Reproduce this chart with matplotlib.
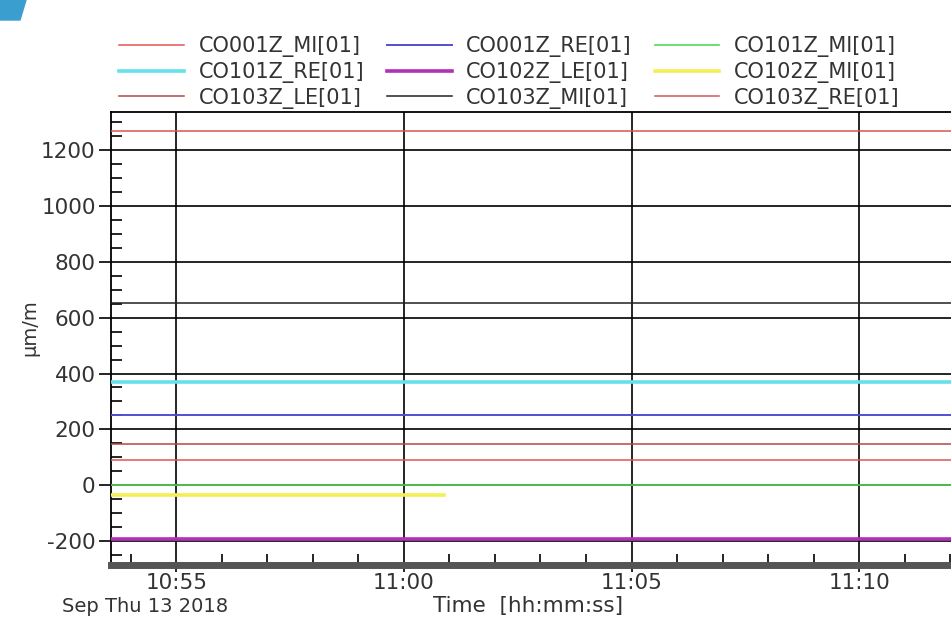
from datetime import datetime

import matplotlib
matplotlib.use("Agg")
import matplotlib.dates as mdates
import matplotlib.pyplot as plt
from matplotlib.patches import Polygon
from matplotlib.ticker import MultipleLocator


# 채널 이름, 값(µm/m), 시작/끝 시각
CHANNELS = [
    "CO001Z_MI[01]", "CO001Z_RE[01]", "CO101Z_MI[01]",
    "CO101Z_RE[01]", "CO102Z_LE[01]", "CO102Z_MI[01]",
    "CO103Z_LE[01]", "CO103Z_MI[01]", "CO103Z_RE[01]",
]
VALUES = [92, 252, 2, 371, -194, -36, 146, 654, 1268]
STARTS = ["10:53:34"] * 9
ENDS = ["11:12:05", "11:12:05", "11:12:05",
        "11:12:05", "11:12:05", "11:00:53",
        "11:12:05", "11:12:05", "11:12:05"]

COLORS = ["#e05555", "#5050d0", "#55d855", "#66e0ea", "#b030b8", "#f2f055",
          "#b04848", "#202020", "#d85555"]
WIDTHS = [1.1, 1.4, 1.2, 2.6, 2.6, 2.6, 1.1, 1.1, 1.1]

X_MIN, X_MAX = "10:53:34", "11:12:01"
Y_MIN, Y_MAX = -286, 1337


def t(hms: str) -> datetime:
    return datetime.strptime("2018-09-13 " + hms, "%Y-%m-%d %H:%M:%S")


plt.rcParams["font.family"] = ["DejaVu Sans"]
plt.rcParams["axes.unicode_minus"] = False

fig = plt.figure(figsize=(9.51, 6.29), dpi=100)
ax = fig.add_axes([0.1167, 0.1017, 0.8833, 0.7203])

lines = []
for name, val, st, en, col, lw in zip(CHANNELS, VALUES, STARTS, ENDS, COLORS, WIDTHS):
    (ln,) = ax.plot([t(st), t(en)], [val, val], color=col, lw=lw, label=name, zorder=3)
    lines.append(ln)

ax.set_xlim(t(X_MIN), t(X_MAX))
ax.set_ylim(Y_MIN, Y_MAX)

ax.xaxis.set_major_locator(mdates.MinuteLocator(byminute=range(0, 60, 5)))
ax.xaxis.set_minor_locator(mdates.MinuteLocator())
ax.xaxis.set_major_formatter(mdates.DateFormatter("%H:%M"))
ax.yaxis.set_major_locator(MultipleLocator(200))
ax.yaxis.set_minor_locator(MultipleLocator(50))

ax.grid(which="major", color="black", lw=1.2, zorder=1)
ax.tick_params(which="major", direction="out", length=9, width=1.2,
               labelsize=15.5, labelcolor="#333333", pad=2)
ax.tick_params(which="minor", direction="in", length=8, width=1.2)
ax.tick_params(axis="x", which="major", length=5, pad=1)

for side in ("left", "top"):
    ax.spines[side].set_linewidth(1.3)
ax.spines["right"].set_visible(False)
ax.spines["bottom"].set_linewidth(5)
ax.spines["bottom"].set_color("#555555")

fig.text(30 / 951, 1 - 328 / 629, "µm/m", fontsize=14, color="#333333",
         rotation=90, ha="center", va="center")

fig.text(62 / 951, 1 - 606 / 629, "Sep Thu 13 2018", fontsize=14,
         color="#333333", ha="left", va="center")
fig.text(528 / 951, 1 - 606 / 629, "Time  [hh:mm:ss]", fontsize=15.5,
         color="#333333", ha="center", va="center")

# 범례는 행 우선 순서로 보이도록 재배열
order = [0, 3, 6, 1, 4, 7, 2, 5, 8]
fig.legend([lines[i] for i in order], [CHANNELS[i] for i in order],
           loc="upper left", bbox_to_anchor=(109 / 951, 1 - 26 / 629),
           ncol=3, frameon=False, fontsize=15, handlelength=3.1,
           handletextpad=0.7, columnspacing=1.1, labelspacing=0.22,
           borderpad=0, labelcolor="#333333")

# 왼쪽 위 모서리 파란 장식
fig.patches.append(Polygon([(0, 1), (26 / 951, 1), (20 / 951, 1 - 20 / 629), (0, 1 - 20 / 629)],
                           closed=True, transform=fig.transFigure, color="#3a9fcf"))

fig.savefig("out.png", dpi=100)
